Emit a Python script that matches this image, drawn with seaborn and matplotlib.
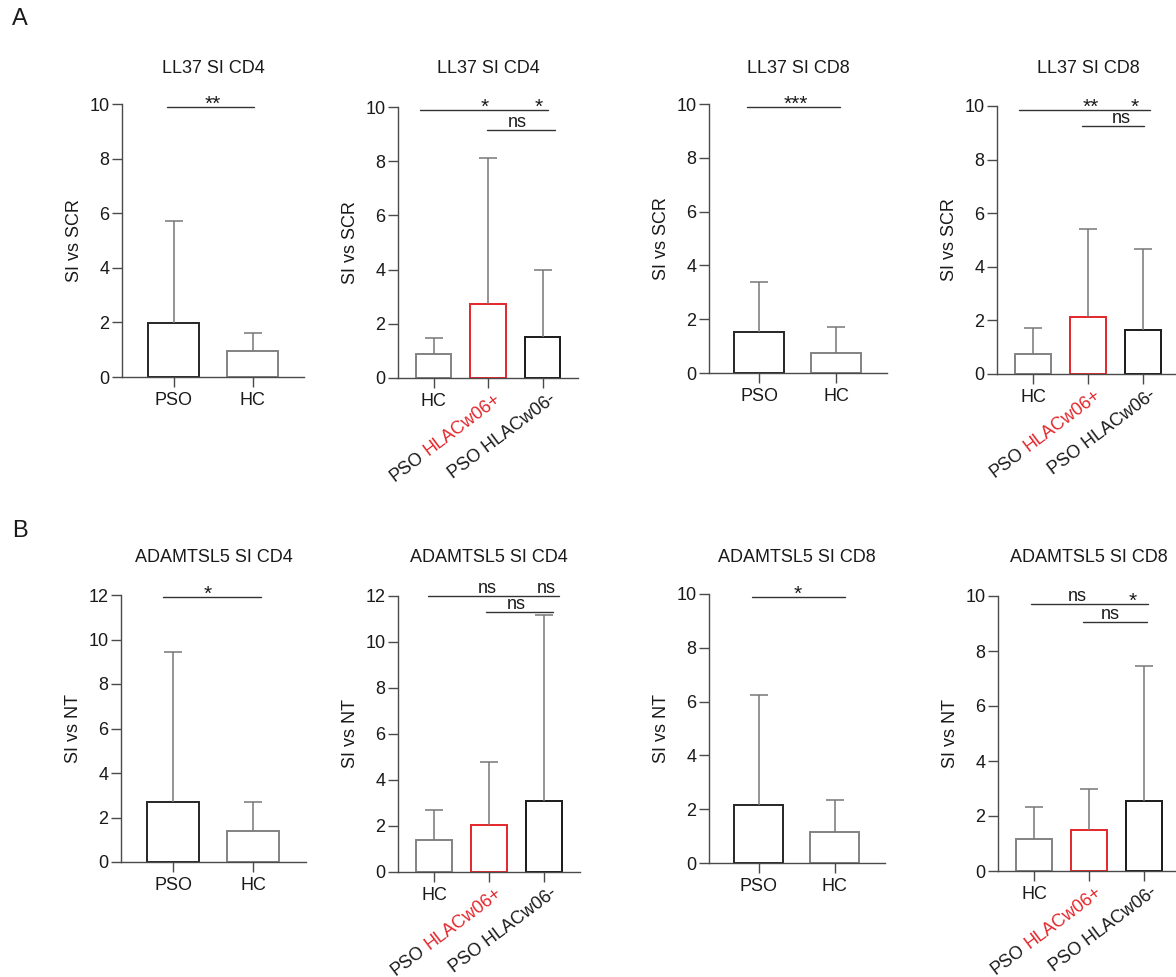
import numpy as np
import pandas as pd
import matplotlib
matplotlib.use("Agg")
import matplotlib.pyplot as plt
from matplotlib import transforms as mtrans
import seaborn as sns

# ---------------- data ----------------
two_groups = ["PSO", "HC"]
three_groups = ["HC", "PSO HLACw06+", "PSO HLACw06-"]

titles = ["LL37 SI CD4", "LL37 SI CD4", "LL37 SI CD8", "LL37 SI CD8",
          "ADAMTSL5 SI CD4", "ADAMTSL5 SI CD4", "ADAMTSL5 SI CD8", "ADAMTSL5 SI CD8"]
ylabels = ["SI vs SCR", "SI vs SCR", "SI vs SCR", "SI vs SCR",
           "SI vs NT", "SI vs NT", "SI vs NT", "SI vs NT"]
ymax_list = [10, 10, 10, 10, 12, 12, 10, 10]

ll37_cd4_2_mean = [1.97, 0.95]
ll37_cd4_2_upper = [5.73, 1.62]
ll37_cd4_3_mean = [0.88, 2.72, 1.50]
ll37_cd4_3_upper = [1.49, 8.12, 3.99]
ll37_cd8_2_mean = [1.54, 0.74]
ll37_cd8_2_upper = [3.38, 1.70]
ll37_cd8_3_mean = [0.75, 2.14, 1.64]
ll37_cd8_3_upper = [1.70, 5.40, 4.67]
adam_cd4_2_mean = [2.69, 1.38]
adam_cd4_2_upper = [9.45, 2.68]
adam_cd4_3_mean = [1.41, 2.03, 3.07]
adam_cd4_3_upper = [2.68, 4.78, 11.19]
adam_cd8_2_mean = [2.15, 1.15]
adam_cd8_2_upper = [6.23, 2.35]
adam_cd8_3_mean = [1.15, 1.49, 2.54]
adam_cd8_3_upper = [2.34, 2.98, 7.46]

means = [ll37_cd4_2_mean, ll37_cd4_3_mean, ll37_cd8_2_mean, ll37_cd8_3_mean,
         adam_cd4_2_mean, adam_cd4_3_mean, adam_cd8_2_mean, adam_cd8_3_mean]
uppers = [ll37_cd4_2_upper, ll37_cd4_3_upper, ll37_cd8_2_upper, ll37_cd8_3_upper,
          adam_cd4_2_upper, adam_cd4_3_upper, adam_cd8_2_upper, adam_cd8_3_upper]
groups = [two_groups, three_groups, two_groups, three_groups,
          two_groups, three_groups, two_groups, three_groups]

# significance brackets: (x_start, x_end, y)
sig_lines = [
    [(-0.08, 1.01, 9.90)],
    [(-0.26, 2.09, 9.89), (0.98, 2.22, 9.15)],
    [(-0.16, 1.04, 9.87)],
    [(-0.25, 2.13, 9.85), (0.89, 2.02, 9.25)],
    [(-0.13, 1.10, 11.90)],
    [(-0.11, 2.27, 12.00), (0.95, 2.16, 11.30)],
    [(-0.09, 1.13, 9.90)],
    [(-0.05, 2.07, 9.70), (0.89, 2.05, 9.05)],
]
# significance labels: (x, y, text)
sig_labels = [
    [(0.50, 9.90, "**")],
    [(0.93, 9.89, "*"), (1.93, 9.89, "*"), (1.54, 9.15, "ns")],
    [(0.47, 9.87, "***")],
    [(1.05, 9.85, "**"), (1.84, 9.85, "*"), (1.60, 9.25, "ns")],
    [(0.43, 11.90, "*")],
    [(0.96, 12.00, "ns"), (2.05, 12.00, "ns"), (1.49, 11.30, "ns")],
    [(0.51, 9.90, "*")],
    [(0.78, 9.70, "ns"), (1.80, 9.70, "*"), (1.38, 9.05, "ns")],
]

# ---------------- style ----------------
sns.set_style("ticks")
plt.rcParams["font.family"] = ["Liberation Sans", "DejaVu Sans"]
FS = 13
AX_COL = "#4a4a4a"
ERR_COL = "#777777"
RED = "#e3262b"
cat_colors = {"PSO": "#262626", "HC": "#828282",
              "PSO HLACw06+": RED, "PSO HLACw06-": "#1a1a1a"}

W, H = 1176, 977
fig = plt.figure(figsize=(W / 100, H / 100), dpi=100)
renderer = fig.canvas.get_renderer()

# layout in pixels: (axis left x, category spacing, y of 0, y of top tick)
layout = [
    (122, 79, 377, 104), (398, 54.5, 378, 107), (709, 77, 373, 104), (997, 55, 374, 106),
    (121, 80, 862, 595), (398, 55, 872, 596), (709, 76, 863, 594), (998, 55, 871, 596),
]
title_y_px = [68.5] * 4 + [558] * 4
MARGIN = 0.655
ROT = 37


def text_width_pt(s, size):
    t = fig.text(0, 0, s, fontsize=size)
    w = t.get_window_extent(renderer).width
    t.remove()
    return w * 72.0 / fig.dpi


for i in range(8):
    left_px, sp, y0_px, ytop_px = layout[i]
    cats = groups[i]
    n = len(cats)
    width_px = (n - 1 + 2 * MARGIN) * sp
    rect = [left_px / W, 1 - y0_px / H, width_px / W, (y0_px - ytop_px) / H]
    ax = fig.add_axes(rect)

    df = pd.DataFrame({"group": cats, "value": means[i]})
    sns.barplot(data=df, x="group", y="value", hue="group", order=cats,
                hue_order=cats, palette=cat_colors, fill=False, saturation=1,
                width=0.65, linewidth=1.4, errorbar=None, legend=False, ax=ax)

    xs = np.arange(n)
    ax.vlines(xs, means[i], uppers[i], color=ERR_COL, lw=1.1, zorder=3)
    ax.plot(xs, uppers[i], ls="none", marker="_", ms=13.5, mew=1.1,
            color=ERR_COL, zorder=3)

    ymax = ymax_list[i]
    ax.set_xlim(-MARGIN, n - 1 + MARGIN)
    ax.set_ylim(0, ymax)
    ax.set_yticks(np.arange(0, ymax + 1, 2))
    ax.spines["top"].set_visible(False)
    ax.spines["right"].set_visible(False)
    for s in ("left", "bottom"):
        ax.spines[s].set_color(AX_COL)
        ax.spines[s].set_linewidth(1.0)
    ax.tick_params(axis="y", length=7.5, width=1.0, color=AX_COL, pad=1.5,
                   labelsize=FS, labelcolor="#1a1a1a")
    ax.tick_params(axis="x", length=7, width=1.0, color=AX_COL, pad=4,
                   labelsize=FS, labelcolor="#1a1a1a")
    ax.set_xlabel("")
    ax.set_ylabel(ylabels[i], fontsize=FS, color="#1a1a1a")
    ax.yaxis.set_label_coords(-39 / width_px, 0.5)

    if n == 3:
        ax.set_xticks(xs)
        ax.set_xticklabels([cats[0], "", ""])
        base = mtrans.blended_transform_factory(ax.transData, ax.transAxes)
        cr, sr = np.cos(np.radians(ROT)), np.sin(np.radians(ROT))
        ox, oy = 8, -14
        for j in (1, 2):
            lab = cats[j]
            if lab.endswith("+"):
                prefix, colored = "PSO", "HLACw06+"
                tr = mtrans.offset_copy(base, fig, x=ox, y=oy, units="points")
                ax.text(j, 0, colored, transform=tr, rotation=ROT,
                        rotation_mode="anchor", ha="right", va="center",
                        fontsize=FS, color=RED, clip_on=False)
                shift = text_width_pt(lab, FS) - text_width_pt(prefix, FS)
                tr2 = mtrans.offset_copy(base, fig, x=ox - shift * cr,
                                         y=oy - shift * sr, units="points")
                ax.text(j, 0, prefix, transform=tr2, rotation=ROT,
                        rotation_mode="anchor", ha="right", va="center",
                        fontsize=FS, color="#1a1a1a", clip_on=False)
            else:
                tr = mtrans.offset_copy(base, fig, x=ox, y=oy, units="points")
                ax.text(j, 0, lab, transform=tr, rotation=ROT,
                        rotation_mode="anchor", ha="right", va="center",
                        fontsize=FS, color="#1a1a1a", clip_on=False)

    # significance
    for (x1, x2, y) in sig_lines[i]:
        ax.plot([x1, x2], [y, y], color="#333333", lw=1.0, clip_on=False, zorder=4)
    for (x, y, txt) in sig_labels[i]:
        if "*" in txt:
            off, fs = -2.0, 15
        else:
            off, fs = 2.3, FS
        ax.annotate(txt, xy=(x, y), xytext=(0, off), textcoords="offset points",
                    ha="center", va="baseline", fontsize=fs, color="#1a1a1a",
                    annotation_clip=False)

    # title centred over categories
    ttr = mtrans.blended_transform_factory(ax.transData, fig.transFigure)
    ax.text((n - 1) / 2, 1 - title_y_px[i] / H, titles[i], transform=ttr,
            ha="center", va="center", fontsize=FS, color="#1a1a1a")

fig.text(20 / W, 1 - 19 / H, "A", fontsize=17, ha="center", va="center", color="#1a1a1a")
fig.text(20 / W, 1 - 531 / H, "B", fontsize=17, ha="center", va="center", color="#1a1a1a")

fig.savefig("out.png", dpi=100)
